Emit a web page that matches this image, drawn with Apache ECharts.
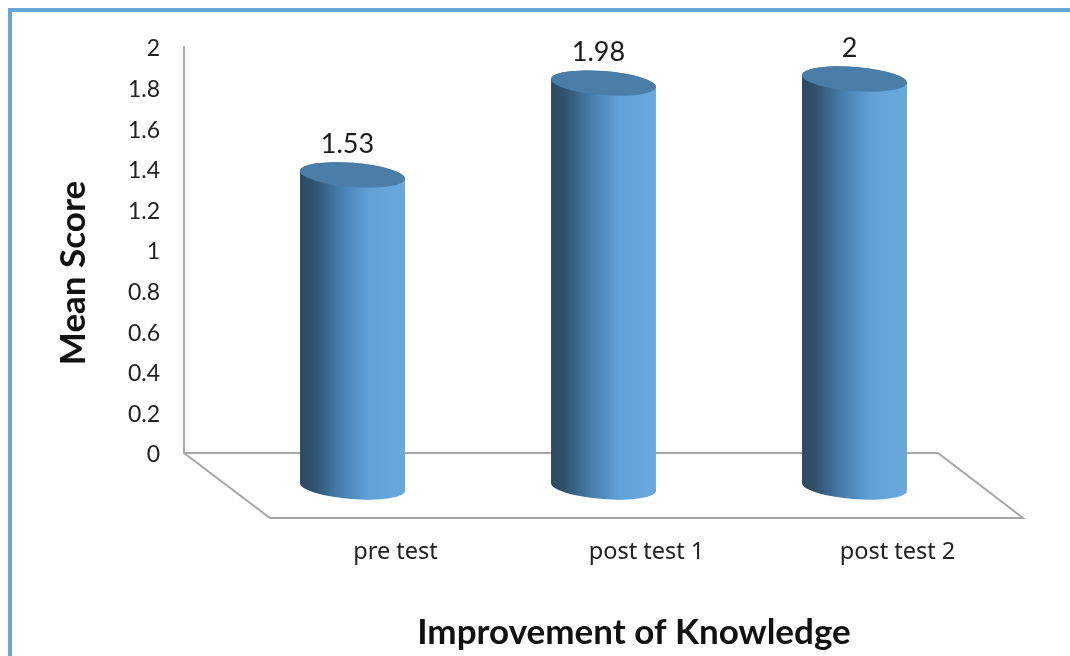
<!DOCTYPE html>
<html>
<head>
<meta charset="utf-8">
<style>
  html, body { margin: 0; padding: 0; background: #fff; }
  #chart { width: 1070px; height: 656px; }
</style>
<script src="https://cdn.jsdelivr.net/npm/echarts@6/dist/echarts.min.js"></script>
</head>
<body>
<div id="chart"></div>
<script>
const categories = ["pre test", "post test 1", "post test 2"];
const meanScores = [1.53, 1.98, 2];
const yMin = 0;
const yMax = 2;
const yStep = 0.2;
const xTitle = "Improvement of Knowledge";
const yTitle = "Mean Score";

const chart = echarts.init(document.getElementById("chart"));
const font = "Lato, Carlito, sans-serif";
const sideFill = {
  type: "linear", x: 0, y: 0, x2: 1, y2: 0,
  colorStops: [
    { offset: 0, color: "#2f4a60" },
    { offset: 0.12, color: "#30506a" },
    { offset: 0.36, color: "#437ba8" },
    { offset: 0.66, color: "#62a1d8" },
    { offset: 1, color: "#68a9de" },
  ],
};

// cylinder, tilted a little like the 3d bars of the original
function renderCylinder(params, api) {
  const top = api.coord([api.value(0), api.value(1)]);
  const base = api.coord([api.value(0), 0]);
  const rx = (api.size([1, 0])[0] * 0.418) / 2;
  const ry = 12;
  const tilt = 4;
  const arc = `A ${rx} ${ry} 4.4 0 0`;
  const cx = top[0];
  const body =
    `M ${cx - rx} ${top[1] - tilt} L ${cx - rx} ${base[1] - tilt} ` +
    `${arc} ${cx + rx} ${base[1] + tilt} L ${cx + rx} ${top[1] + tilt} ` +
    `${arc} ${cx - rx} ${top[1] - tilt} Z`;
  const cap =
    `M ${cx - rx} ${top[1] - tilt} ${arc} ${cx + rx} ${top[1] + tilt} ` +
    `${arc} ${cx - rx} ${top[1] - tilt} Z`;
  return {
    type: "group",
    children: [
      { type: "path", shape: { pathData: body }, style: { fill: sideFill } },
      { type: "path", shape: { pathData: cap }, style: { fill: "#4a7da8" } },
      {
        type: "text",
        style: {
          x: cx - 5, y: top[1] - 31,
          text: String(api.value(1)),
          font: `27px ${font}`, fill: "#1a1a1a",
          align: "center", verticalAlign: "middle",
        },
      },
    ],
  };
}

const options = {
  animation: false,
  backgroundColor: "#fff",
  grid: [
    // wall: value axis labels
    { left: 184, top: 49, width: 754, height: 406 },
    // middle of the floor: bars
    { left: 227, top: 79, width: 753, height: 408 },
    // front of the floor: category labels
    { left: 270, top: 79, width: 753, height: 439 },
  ],
  xAxis: [
    { gridIndex: 0, type: "category", data: categories, show: false },
    { gridIndex: 1, type: "category", data: categories, show: false },
    {
      gridIndex: 2,
      type: "category",
      data: categories,
      axisLine: { show: false },
      axisTick: { show: false },
      axisLabel: { color: "#222", fontSize: 23.5, fontFamily: "'Noto Sans', sans-serif", margin: 22 },
    },
  ],
  yAxis: [
    {
      gridIndex: 0,
      type: "value",
      min: yMin,
      max: yMax,
      interval: yStep,
      splitLine: { show: false },
      axisTick: { show: false },
      axisLine: { show: false },
      axisLabel: { color: "#222", fontSize: 23, fontFamily: font, margin: 24 },
    },
    { gridIndex: 1, type: "value", min: yMin, max: yMax, show: false },
    { gridIndex: 2, type: "value", min: yMin, max: yMax, show: false },
  ],
  series: [
    {
      type: "custom",
      xAxisIndex: 1,
      yAxisIndex: 1,
      data: categories.map((name, i) => [i, meanScores[i]]),
      renderItem: renderCylinder,
      z: 5,
    },
  ],
  graphic: [
    // blue frame of the figure, top and left only
    { type: "rect", shape: { x: 8, y: 8, width: 1062, height: 4 }, style: { fill: "#68a5db" } },
    { type: "rect", shape: { x: 8, y: 8, width: 4, height: 648 }, style: { fill: "#68a5db" } },
    // wall line and floor
    {
      type: "polyline",
      z: 1,
      shape: { points: [[184, 46], [184, 453], [938, 453], [1023, 518], [270, 518], [184, 453]] },
      style: { stroke: "#a6a6a6", lineWidth: 2, fill: "none" },
    },
    {
      type: "text",
      x: 634, y: 633,
      style: { text: xTitle, font: `bold 35px ${font}`, fill: "#111", align: "center", verticalAlign: "middle" },
    },
    {
      type: "text",
      x: 74, y: 273,
      rotation: Math.PI / 2,
      style: { text: yTitle, font: `bold 35px ${font}`, fill: "#111", align: "center", verticalAlign: "middle" },
    },
  ],
};

chart.setOption(options);
</script>
</body>
</html>
